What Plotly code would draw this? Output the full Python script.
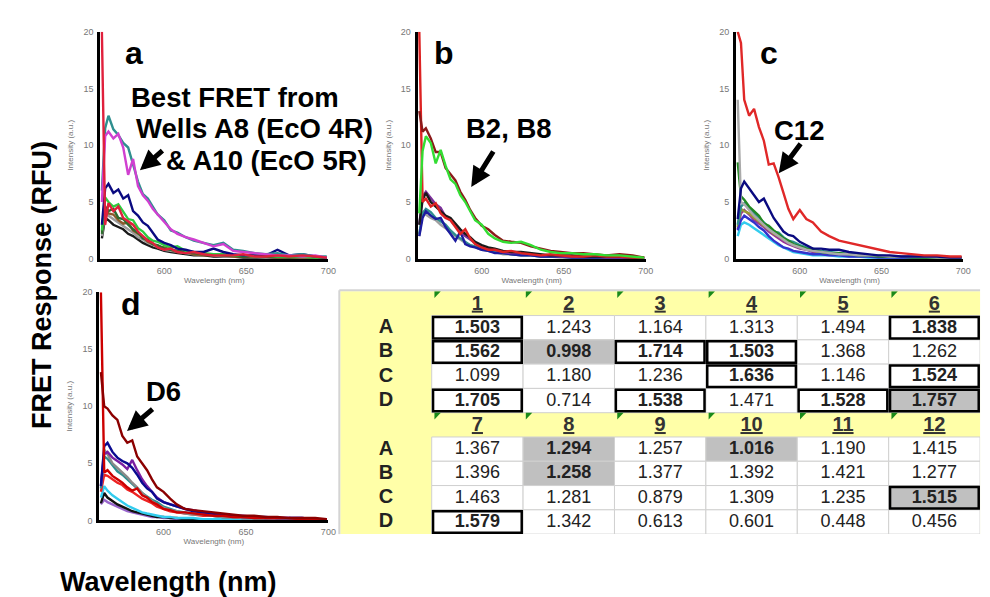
import plotly.graph_objects as go

W, H = 990, 597
FONT = "Liberation Sans, Arial, Helvetica, sans-serif"

# ---------------- spectra data ----------------
WAVELENGTH_NM = [562, 564, 566, 569, 572, 575, 578, 581, 584, 587, 590, 593, 596, 600, 604,
                 608, 613, 618, 624, 630, 636, 642, 648, 655, 662, 669, 676, 684, 692, 699]

# panel a : row A
A_A8 = [5.0, 10.8, 11.2, 10.6, 11.0, 9.8, 7.4, 8.8, 6.4, 5.6, 5.1, 4.4, 3.9, 3.2, 2.6,
        2.2, 1.9, 1.7, 1.4, 1.1, 1.3, 0.7, 0.6, 0.5, 0.4, 0.3, 0.3, 0.2, 0.3, 0.1]
A_A10 = [6.0, 11.5, 12.6, 11.4, 10.9, 10.2, 9.8, 8.4, 6.8, 5.7, 5.3, 4.6, 3.9, 3.4, 2.5,
         2.3, 1.9, 1.6, 1.4, 1.2, 1.4, 0.8, 0.7, 0.5, 0.4, 0.5, 0.3, 0.4, 0.2, 0.2]
A_NAVY = [3.0, 6.2, 6.6, 5.8, 6.1, 5.3, 5.6, 4.2, 3.8, 3.2, 2.9, 2.3, 1.7, 1.4, 1.2,
          0.9, 0.8, 0.6, 0.6, 0.9, 0.6, 0.4, 0.3, 0.3, 0.3, 0.8, 0.3, 0.4, 0.2, 0.1]
A_GREEN = [2.5, 5.4, 5.0, 4.6, 4.8, 4.1, 3.5, 3.4, 2.7, 2.4, 1.9, 1.6, 1.5, 1.2, 1.0,
           1.1, 0.7, 0.6, 0.5, 0.4, 0.4, 0.3, 0.3, 0.2, 0.3, 0.2, 0.2, 0.2, 0.1, 0.1]
A_DKGREEN = [2.2, 4.6, 4.2, 4.4, 3.6, 3.5, 3.0, 2.6, 2.3, 1.8, 1.7, 1.3, 1.2, 0.9, 0.8,
             0.7, 0.6, 0.5, 0.4, 0.4, 0.3, 0.3, 0.2, 0.3, 0.2, 0.2, 0.1, 0.2, 0.1, 0.1]
A_RED = [20.0, 3.0, 4.9, 4.2, 4.6, 3.6, 3.3, 3.0, 2.4, 2.0, 1.6, 1.4, 1.0, 0.8, 0.9,
         0.6, 0.5, 0.6, 0.4, 0.3, 0.3, 0.3, 0.4, 0.2, 0.2, 0.3, 0.2, 0.3, 0.2, 0.1]
A_GREY = [2.0, 4.0, 3.8, 3.5, 3.2, 2.9, 2.6, 2.3, 1.9, 1.7, 1.4, 1.2, 1.0, 0.8, 0.7,
          0.6, 0.5, 0.4, 0.4, 0.3, 0.2, 0.2, 0.3, 0.2, 0.1, 0.2, 0.1, 0.1, 0.1, 0.1]
A_BROWN = [2.4, 4.4, 4.0, 3.9, 3.4, 3.1, 3.2, 2.5, 2.2, 1.9, 1.5, 1.3, 1.1, 1.0, 0.8,
           0.6, 0.6, 0.4, 0.3, 0.3, 0.3, 0.2, 0.2, 0.2, 0.2, 0.1, 0.1, 0.1, 0.1, 0.1]
A_BLACK = [1.8, 3.6, 3.4, 3.0, 2.8, 2.6, 2.2, 2.0, 1.7, 1.4, 1.2, 1.0, 0.9, 0.7, 0.6,
           0.5, 0.4, 0.3, 0.3, 0.2, 0.2, 0.2, 0.1, 0.1, 0.1, 0.1, 0.1, 0.1, 0.1, 0.0]

# panel b : row B
B_B2 = [4.0, 9.5, 10.8, 10.2, 8.4, 9.6, 8.2, 7.0, 6.6, 5.6, 5.0, 4.2, 3.4, 3.0, 2.2,
        1.8, 1.5, 1.4, 1.5, 1.2, 0.8, 0.6, 0.5, 0.5, 0.4, 0.4, 0.3, 0.3, 0.2, 0.1]
B_B8 = [13.0, 11.2, 11.5, 10.6, 9.4, 9.4, 8.0, 7.4, 6.9, 5.9, 5.2, 4.3, 3.6, 2.9, 2.6,
        2.1, 1.6, 1.5, 1.4, 1.1, 0.9, 0.7, 0.6, 0.5, 0.5, 0.4, 0.3, 0.4, 0.3, 0.1]
B_RED = [20.0, 5.0, 5.3, 4.6, 4.9, 4.0, 3.6, 3.4, 2.8, 2.2, 2.6, 1.8, 1.3, 1.0, 0.8,
         0.8, 0.6, 0.7, 0.5, 0.4, 0.3, 0.4, 0.3, 0.2, 0.2, 0.3, 0.2, 0.2, 0.1, 0.1]
B_BLACK = [3.0, 5.2, 5.8, 5.0, 4.6, 4.2, 3.8, 3.6, 3.1, 2.6, 2.2, 1.9, 1.5, 1.2, 1.0,
           0.9, 0.7, 0.6, 0.6, 0.5, 0.4, 0.3, 0.3, 0.3, 0.2, 0.2, 0.2, 0.2, 0.1, 0.1]
B_PURPLE = [3.0, 5.5, 5.9, 5.3, 4.8, 4.5, 3.7, 3.4, 2.9, 2.4, 2.0, 1.7, 1.4, 1.1, 0.9,
            0.8, 0.6, 0.5, 0.5, 0.4, 0.3, 0.3, 0.2, 0.2, 0.2, 0.2, 0.1, 0.1, 0.1, 0.1]
B_NAVY = [2.0, 3.6, 4.2, 3.8, 3.5, 3.6, 2.8, 2.2, 1.6, 2.4, 1.3, 1.1, 1.0, 0.8, 0.7,
          0.5, 0.5, 0.4, 0.3, 0.3, 0.2, 0.2, 0.2, 0.1, 0.1, 0.1, 0.1, 0.1, 0.1, 0.0]
B_TEAL = [2.2, 4.0, 4.4, 4.1, 3.6, 3.3, 3.0, 2.5, 2.1, 1.8, 1.5, 1.2, 1.1, 0.9, 0.7,
          0.6, 0.5, 0.4, 0.3, 0.3, 0.2, 0.2, 0.2, 0.1, 0.1, 0.1, 0.1, 0.1, 0.1, 0.0]
B_GREY = [2.0, 4.2, 3.9, 3.6, 3.4, 3.0, 2.7, 2.3, 2.0, 1.7, 1.4, 1.2, 1.0, 0.8, 0.7,
          0.6, 0.4, 0.4, 0.3, 0.3, 0.2, 0.2, 0.1, 0.1, 0.1, 0.1, 0.1, 0.1, 0.0, 0.0]

# panel c : row C
C_C12 = [20.0, 19.0, 14.0, 12.6, 13.2, 11.6, 10.4, 8.3, 8.4, 7.2, 5.8, 4.4, 3.5, 4.3, 3.5,
         3.2, 2.4, 2.0, 1.6, 1.4, 1.2, 1.0, 0.8, 0.6, 0.5, 0.4, 0.3, 0.3, 0.2, 0.2]
C_NAVY = [3.5, 6.2, 6.8, 6.2, 5.6, 5.0, 5.3, 4.4, 3.6, 3.0, 2.4, 2.1, 2.0, 1.5, 1.2,
          0.9, 0.9, 0.8, 0.8, 0.6, 0.5, 0.4, 0.3, 0.3, 0.2, 0.2, 0.2, 0.2, 0.1, 0.1]
C_GREY = [14.0, 5.0, 4.8, 4.3, 3.8, 3.4, 3.0, 2.6, 2.3, 2.0, 1.7, 1.4, 1.2, 1.0, 0.8,
          0.7, 0.6, 0.5, 0.4, 0.4, 0.3, 0.3, 0.3, 0.2, 0.2, 0.2, 0.2, 0.1, 0.1, 0.1]
C_GREEN = [8.5, 5.5, 5.2, 4.6, 4.2, 3.8, 3.1, 2.9, 2.5, 2.2, 1.8, 1.6, 1.3, 1.1, 0.9,
           0.8, 0.6, 0.5, 0.5, 0.4, 0.3, 0.3, 0.2, 0.2, 0.2, 0.1, 0.1, 0.1, 0.1, 0.1]
C_TEAL = [3.0, 4.6, 4.9, 4.4, 4.0, 3.6, 3.2, 2.8, 2.4, 2.3, 1.9, 1.6, 1.5, 1.2, 1.0,
          0.9, 0.7, 0.6, 0.5, 0.4, 0.4, 0.3, 0.3, 0.2, 0.2, 0.2, 0.1, 0.1, 0.1, 0.1]
C_BLUE = [2.5, 3.4, 3.8, 3.5, 3.2, 2.8, 2.5, 2.0, 1.6, 1.3, 1.0, 0.9, 0.7, 0.6, 0.5,
          0.4, 0.4, 0.3, 0.3, 0.2, 0.2, 0.2, 0.1, 0.1, 0.1, 0.1, 0.1, 0.1, 0.0, 0.0]
C_CYAN = [2.0, 3.0, 3.2, 3.0, 2.7, 2.4, 2.1, 1.8, 1.5, 1.2, 1.0, 0.8, 0.6, 0.5, 0.4,
          0.3, 0.3, 0.3, 0.2, 0.2, 0.2, 0.1, 0.1, 0.1, 0.1, 0.1, 0.1, 0.0, 0.0, 0.0]
C_OLIVE = [2.8, 4.4, 4.2, 4.0, 3.6, 3.3, 2.9, 2.6, 2.2, 2.0, 1.7, 1.5, 1.2, 1.0, 0.9,
           0.7, 0.6, 0.5, 0.4, 0.4, 0.3, 0.3, 0.2, 0.2, 0.2, 0.1, 0.1, 0.1, 0.1, 0.1]
C_PURPLE = [2.6, 4.0, 4.3, 3.9, 3.4, 3.1, 2.8, 2.4, 2.1, 1.8, 1.5, 1.3, 1.1, 0.9, 0.8,
            0.6, 0.6, 0.5, 0.4, 0.3, 0.3, 0.2, 0.2, 0.2, 0.1, 0.1, 0.1, 0.1, 0.1, 0.0]

# panel d : row D
D_D6 = [13.0, 10.0, 9.8, 9.2, 8.8, 7.4, 6.8, 7.0, 5.6, 5.0, 4.4, 3.6, 2.9, 2.5, 1.9,
        1.4, 1.0, 0.9, 0.8, 0.7, 0.6, 0.5, 0.4, 0.4, 0.3, 0.3, 0.2, 0.2, 0.2, 0.1]
D_RED = [20.0, 4.2, 4.4, 3.9, 3.6, 3.3, 2.9, 2.6, 2.8, 2.2, 2.0, 1.6, 1.4, 1.0, 0.9,
         0.7, 0.7, 0.6, 0.5, 0.4, 0.4, 0.3, 0.3, 0.2, 0.2, 0.2, 0.2, 0.1, 0.1, 0.1]
D_NAVY = [3.0, 6.5, 6.8, 6.0, 5.5, 5.2, 5.0, 4.6, 4.0, 3.3, 2.8, 2.5, 1.9, 1.6, 1.4,
          1.2, 1.0, 0.8, 0.7, 0.6, 0.5, 0.4, 0.3, 0.3, 0.3, 0.2, 0.2, 0.2, 0.1, 0.1]
D_PURPLE = [3.0, 5.8, 6.0, 5.5, 5.2, 4.9, 4.5, 5.3, 4.4, 3.6, 3.0, 2.5, 2.0, 1.6, 1.4,
            1.2, 1.0, 0.9, 0.7, 0.6, 0.5, 0.4, 0.4, 0.3, 0.2, 0.2, 0.2, 0.2, 0.1, 0.1]
D_GREY = [3.0, 6.2, 5.8, 5.0, 4.6, 4.2, 3.8, 3.3, 2.9, 2.4, 2.0, 1.7, 1.4, 1.1, 0.9,
          0.8, 0.6, 0.5, 0.5, 0.4, 0.3, 0.3, 0.2, 0.2, 0.2, 0.1, 0.1, 0.1, 0.1, 0.1]
D_TEAL = [2.8, 5.6, 5.4, 4.8, 4.3, 4.0, 3.6, 3.2, 2.8, 2.4, 2.1, 1.8, 1.6, 1.2, 1.0,
          0.8, 0.7, 0.6, 0.5, 0.4, 0.3, 0.3, 0.3, 0.2, 0.2, 0.1, 0.1, 0.1, 0.1, 0.1]
D_RED2 = [2.5, 4.0, 3.9, 3.6, 3.3, 3.1, 2.7, 2.5, 2.2, 1.9, 1.7, 1.5, 1.2, 1.0, 0.8,
          0.7, 0.6, 0.5, 0.4, 0.4, 0.3, 0.3, 0.2, 0.2, 0.2, 0.1, 0.1, 0.1, 0.1, 0.1]
D_CYAN = [2.0, 3.0, 2.6, 2.2, 1.9, 1.6, 1.3, 1.1, 0.9, 0.7, 0.6, 0.5, 0.4, 0.3, 0.3,
          0.2, 0.2, 0.2, 0.1, 0.1, 0.1, 0.1, 0.1, 0.0, 0.0, 0.0, 0.0, 0.0, 0.0, 0.0]
D_BLACK = [1.5, 2.4, 2.0, 1.7, 1.4, 1.2, 1.0, 0.8, 0.7, 0.6, 0.5, 0.4, 0.3, 0.3, 0.2,
           0.2, 0.1, 0.1, 0.1, 0.1, 0.1, 0.0, 0.0, 0.0, 0.0, 0.0, 0.0, 0.0, 0.0, 0.0]
D_LAVENDER = [1.4, 1.8, 1.6, 1.4, 1.2, 1.0, 0.8, 0.7, 0.6, 0.5, 0.4, 0.3, 0.3, 0.2, 0.2,
              0.1, 0.1, 0.1, 0.1, 0.1, 0.0, 0.0, 0.0, 0.0, 0.0, 0.0, 0.0, 0.0, 0.0, 0.0]

Y_TICKS = [0, 5, 10, 15, 20]
X_TICKS = [600, 650, 700]

# ---------------- table data ----------------
ROW_LABELS = ["A", "B", "C", "D"]
COLUMN_NUMBERS = [1, 2, 3, 4, 5, 6, 7, 8, 9, 10, 11, 12]
ROW_A = [1.503, 1.243, 1.164, 1.313, 1.494, 1.838, 1.367, 1.294, 1.257, 1.016, 1.190, 1.415]
ROW_B = [1.562, 0.998, 1.714, 1.503, 1.368, 1.262, 1.396, 1.258, 1.377, 1.392, 1.421, 1.277]
ROW_C = [1.099, 1.180, 1.236, 1.636, 1.146, 1.524, 1.463, 1.281, 0.879, 1.309, 1.235, 1.515]
ROW_D = [1.705, 0.714, 1.538, 1.471, 1.528, 1.757, 1.579, 1.342, 0.613, 0.601, 0.448, 0.456]
BOXED_WELLS = ["A1", "B1", "D1", "B3", "D3", "B4", "C4", "D5", "A6", "C6", "D6", "D7", "C12"]
SHADED_WELLS = ["B2", "D6", "A8", "B8", "A10", "C12"]

# ---------------- styles ----------------
PANELS = [
    dict(key="", dom=(93, 323, 19, 250), xr=[561, 700], series=[
        (A_BLACK, "#1a1a1a"), (A_GREY, "#9a9a9a"), (A_BROWN, "#8b5a2b"), (A_DKGREEN, "#2e6b2e"),
        (A_GREEN, "#2ecc40"), (A_NAVY, "#0a0a80"), (A_A10, "#2f8f8f"), (A_A8, "#d040d0"),
        (A_RED, "#e0203c")]),
    dict(key="2", dom=(413, 643, 19, 250), xr=[561, 700], series=[
        (B_GREY, "#a0a0a0"), (B_TEAL, "#2f8f8f"), (B_NAVY, "#1c1ca0"), (B_PURPLE, "#7a2f9a"),
        (B_BLACK, "#1a1a1a"), (B_RED, "#dd2222"), (B_B8, "#8b1a1a"), (B_B2, "#33dd33")]),
    dict(key="3", dom=(734, 963, 19, 250), xr=[561, 700], series=[
        (C_PURPLE, "#993399"), (C_OLIVE, "#9a9a33"), (C_CYAN, "#33ccee"), (C_BLUE, "#3333cc"),
        (C_TEAL, "#2f8f8f"), (C_GREEN, "#228822"), (C_GREY, "#aaaaaa"), (C_NAVY, "#0a0a80"),
        (C_C12, "#e02828")]),
    dict(key="4", dom=(92, 323, 284, 516), xr=[561, 700], series=[
        (D_LAVENDER, "#9966cc"), (D_BLACK, "#111111"), (D_CYAN, "#33ccee"), (D_RED2, "#ee2222"),
        (D_TEAL, "#2f8f8f"), (D_GREY, "#8a8a8a"), (D_PURPLE, "#7a1fa2"), (D_NAVY, "#0a0a90"),
        (D_RED, "#cc0000"), (D_D6, "#8b0000")]),
]


def pxx(x):
    return x / W


def pxy(y):
    return 1 - y / H


fig = go.Figure()
layout = dict(width=W, height=H, margin=dict(l=0, r=0, t=0, b=0),
              paper_bgcolor="white", plot_bgcolor="rgba(0,0,0,0)",
              showlegend=False, hovermode=False, font=dict(family=FONT))

for p in PANELS:
    k = p["key"]
    x0, x1, y0, y1 = p["dom"]
    for vals, col in p["series"]:
        fig.add_trace(go.Scatter(x=WAVELENGTH_NM, y=vals, mode="lines",
                                 line=dict(color=col, width=2.4),
                                 xaxis="x" + k, yaxis="y" + k, hoverinfo="skip"))
    layout["xaxis" + k] = dict(domain=[pxx(x0), pxx(x1)], range=p["xr"], anchor="y" + k,
                               showline=True, linecolor="black", linewidth=3,
                               showgrid=False, zeroline=False, ticks="",
                               tickvals=X_TICKS, tickfont=dict(size=9, color="#777"),
                               ticklabelstandoff=1,
                               title=dict(text="Wavelength (nm)", font=dict(size=8, color="#777"),
                                          standoff=2),
                               fixedrange=True)
    layout["yaxis" + k] = dict(domain=[pxy(y1), pxy(y0)], range=[0, 20], anchor="x" + k,
                               showline=True, linecolor="black", linewidth=3,
                               showgrid=False, zeroline=False, ticks="",
                               tickvals=Y_TICKS, tickfont=dict(size=9, color="#777"),
                               ticklabelstandoff=2,
                               title=dict(text="Intensity (a.u.)", font=dict(size=8, color="#777"),
                                          standoff=9),
                               fixedrange=True)

# ---------------- table ----------------
T_LEFT, T_RIGHT, T_TOP, T_BOTTOM = 335, 980, 283, 530
layout["xaxis5"] = dict(domain=[pxx(T_LEFT), pxx(T_RIGHT)], range=[0, 7], anchor="y5",
                        visible=False, fixedrange=True)
layout["yaxis5"] = dict(domain=[pxy(T_BOTTOM), pxy(T_TOP)], range=[10, 0], anchor="x5",
                        visible=False, fixedrange=True)

shapes = []
shapes.append(dict(type="rect", xref="paper", yref="paper", x0=pxx(T_LEFT), x1=pxx(T_RIGHT),
                   y0=pxy(T_BOTTOM), y1=pxy(T_TOP), fillcolor="#ffffa8", line=dict(width=0),
                   layer="below"))
shapes.append(dict(type="line", xref="paper", yref="paper", x0=pxx(T_LEFT - 1), x1=pxx(T_RIGHT),
                   y0=pxy(T_TOP - 1), y1=pxy(T_TOP - 1), line=dict(color="#d4d4d4", width=2)))
shapes.append(dict(type="line", xref="paper", yref="paper", x0=pxx(T_LEFT - 1), x1=pxx(T_LEFT - 1),
                   y0=pxy(T_BOTTOM), y1=pxy(T_TOP - 1), line=dict(color="#d4d4d4", width=2)))

rows = [ROW_A, ROW_B, ROW_C, ROW_D]
val_x, val_y, val_t = [], [], []
hdr_x, hdr_y, hdr_t = [], [], []
lab_x, lab_y, lab_t = [], [], []
top_shapes = []
for ci, num in enumerate(COLUMN_NUMBERS):
    g = ci // 6
    c = ci % 6
    hrow = g * 5
    hdr_x.append(c + 1.5)
    hdr_y.append(hrow + 0.55)
    hdr_t.append("<b><u>%d</u></b>" % num)
    # little green triangle in the header cell corner
    tx = c + 1 + 0.03
    top_shapes.append(dict(type="path", xref="x5", yref="y5",
                           path="M %f,%f L %f,%f L %f,%f Z" % (tx, hrow, tx + 0.07, hrow, tx, hrow + 0.28),
                           fillcolor="#1a8a1a", line=dict(width=0)))
    for ri, lab in enumerate(ROW_LABELS):
        r = hrow + 1 + ri
        well = "%s%d" % (lab, num)
        shaded = well in SHADED_WELLS
        boxed = well in BOXED_WELLS
        shapes.append(dict(type="rect", xref="x5", yref="y5", x0=c + 1, x1=c + 2, y0=r, y1=r + 1,
                           fillcolor="#c0c0c0" if shaded else "white",
                           line=dict(color="#d0d0d0", width=1), layer="below"))
        if boxed:
            top_shapes.append(dict(type="rect", xref="x5", yref="y5", x0=c + 1.015, x1=c + 1.985,
                                   y0=r + 0.06, y1=r + 0.94, line=dict(color="black", width=2.5)))
        v = "%.3f" % rows[ri][ci]
        val_x.append(c + 1.5)
        val_y.append(r + 0.52)
        val_t.append("<b>%s</b>" % v if (shaded or boxed) else v)

for g in range(2):
    for ri, lab in enumerate(ROW_LABELS):
        lab_x.append(0.5)
        lab_y.append(g * 5 + 1 + ri + 0.52)
        lab_t.append("<b>%s</b>" % lab)

shapes.extend(top_shapes)

fig.add_trace(go.Scatter(x=val_x, y=val_y, text=val_t, mode="text", xaxis="x5", yaxis="y5",
                         textfont=dict(size=18, color="#222", family=FONT), hoverinfo="skip"))
fig.add_trace(go.Scatter(x=hdr_x, y=hdr_y, text=hdr_t, mode="text", xaxis="x5", yaxis="y5",
                         textfont=dict(size=20, color="#333", family=FONT), hoverinfo="skip"))
fig.add_trace(go.Scatter(x=lab_x, y=lab_y, text=lab_t, mode="text", xaxis="x5", yaxis="y5",
                         textfont=dict(size=20, color="#222", family=FONT), hoverinfo="skip"))

# ---------------- annotations ----------------
ann = []


def txt(text, x, y, size, xanchor="center", angle=0):
    ann.append(dict(text=text, x=pxx(x), y=pxy(y), xref="paper", yref="paper",
                    xanchor=xanchor, yanchor="middle", showarrow=False, textangle=angle,
                    font=dict(family=FONT, size=size, color="black")))


def arrow(hx, hy, tx, ty):
    ann.append(dict(text="", x=pxx(hx), y=pxy(hy), xref="paper", yref="paper",
                    ax=tx - hx, ay=ty - hy, showarrow=True, arrowhead=2, arrowsize=0.8,
                    arrowwidth=5, arrowcolor="black", standoff=0, startstandoff=0))


txt("<b>a</b>", 127, 41, 32)
txt("<b>b</b>", 440, 41, 32)
txt("<b>c</b>", 767, 41, 32)
txt("<b>d</b>", 124, 296, 32)
txt("<b>Best FRET from</b>", 122, 86, 27.5, "left")
txt("<b>Wells A8 (EcO 4R)</b>", 127, 117, 27.5, "left")
txt("<b>& A10 (EcO 5R)</b>", 364, 150, 27.5, "right")
txt("<b>B2, B8</b>", 505, 117, 27.5)
txt("<b>C12</b>", 797, 119, 27.5)
txt("<b>D6</b>", 157, 385, 27.5)
arrow(133, 160, 157, 139)
arrow(467, 177, 490, 140)
arrow(777, 163, 800, 132)
arrow(120, 425, 147, 402)
txt("<b>FRET Response (RFU)</b>", 35, 277, 27, angle=-90)
txt("<b>Wavelength (nm)</b>", 162, 579, 27)

layout["shapes"] = shapes
layout["annotations"] = ann
fig.update_layout(**layout)
fig.write_html("out.html")
